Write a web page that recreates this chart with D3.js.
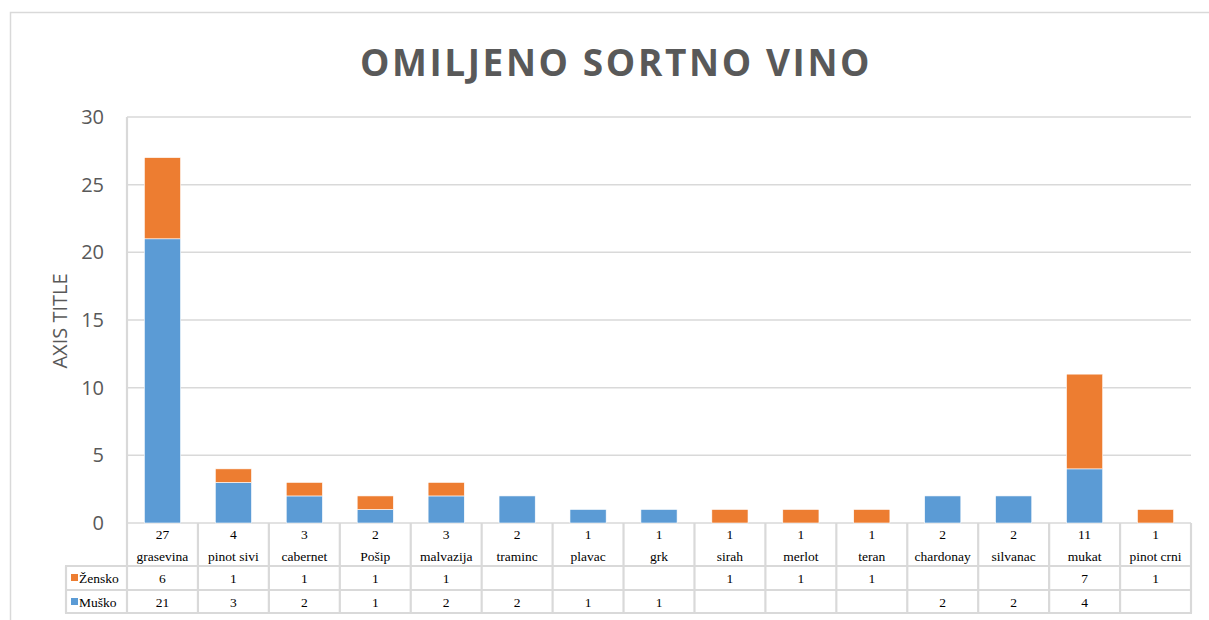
<!DOCTYPE html>
<html>
<head>
<meta charset="utf-8">
<script src="https://cdn.jsdelivr.net/npm/d3@7"></script>
<style>
  body { margin: 0; background: #fff; }
  svg { display: block; }
</style>
</head>
<body>
<script>
// data
var categories = ['grasevina', 'pinot sivi', 'cabernet', 'Pošip', 'malvazija', 'traminc', 'plavac', 'grk',
  'sirah', 'merlot', 'teran', 'chardonay', 'silvanac', 'mukat', 'pinot crni'];
var totals = [27, 4, 3, 2, 3, 2, 1, 1, 1, 1, 1, 2, 2, 11, 1];
var zensko = [6, 1, 1, 1, 1, null, null, null, 1, 1, 1, null, null, 7, 1];
var musko = [21, 3, 2, 1, 2, 2, 1, 1, null, null, null, 2, 2, 4, null];
var yTicks = [0, 5, 10, 15, 20, 25, 30];

var W = 1209, H = 620;
var plotLeft = 127, plotRight = 1191, plotTop = 117, base = 523;
var rowH = [43, 24, 23];

var svg = d3.select('body').append('svg')
  .attr('width', W)
  .attr('height', H);

// chart border
svg.append('rect')
  .attr('x', 10.5).attr('y', 12.5)
  .attr('width', 1220).attr('height', 620)
  .attr('fill', 'none')
  .attr('stroke', '#d9d9d9')
  .attr('stroke-width', 1.5);

svg.append('text')
  .attr('x', 616)
  .attr('y', 76)
  .attr('text-anchor', 'middle')
  .style('font-family', 'Open Sans, sans-serif')
  .style('font-weight', 'bold')
  .style('font-size', '37px')
  .style('letter-spacing', '2.6px')
  .style('fill', '#595959')
  .text('OMILJENO SORTNO VINO');

var x = d3.scaleBand()
  .domain(categories)
  .range([plotLeft, plotRight])
  .paddingInner(0.49)
  .paddingOuter(0.245);

var cols = d3.scaleBand()
  .domain(categories)
  .range([plotLeft, plotRight]);

var y = d3.scaleLinear()
  .domain([0, 30])
  .range([base, plotTop]);

// gridlines
svg.append('g')
  .selectAll('line')
  .data(yTicks)
  .enter().append('line')
  .attr('x1', plotLeft).attr('x2', plotRight)
  .attr('y1', function(d) { return y(d); })
  .attr('y2', function(d) { return y(d); })
  .attr('stroke', '#d9d9d9')
  .attr('stroke-width', 1.5);

// y axis labels
var yAxis = d3.axisLeft(y).tickValues(yTicks).tickSize(0).tickPadding(0);
var gy = svg.append('g')
  .attr('transform', 'translate(104,0)')
  .call(yAxis);
gy.select('.domain').remove();
gy.selectAll('text')
  .style('font-family', 'Open Sans, sans-serif')
  .style('font-size', '20px')
  .style('fill', '#595959');

svg.append('text')
  .attr('transform', 'translate(67,321) rotate(-90)')
  .attr('text-anchor', 'middle')
  .style('font-family', 'Open Sans, sans-serif')
  .style('font-size', '20px')
  .style('fill', '#595959')
  .text('AXIS TITLE');

// stacked bars
var stackData = categories.map(function(c, i) {
  return { cat: c, musko: musko[i] || 0, zensko: zensko[i] || 0 };
});
var series = d3.stack().keys(['musko', 'zensko'])(stackData);
var color = { musko: '#5b9bd5', zensko: '#ed7d31' };

svg.append('g')
  .selectAll('g')
  .data(series)
  .enter().append('g')
  .attr('fill', function(s) { return color[s.key]; })
  .selectAll('rect')
  .data(function(s) { return s.filter(function(d) { return d[1] > d[0]; }); })
  .enter().append('rect')
  .attr('x', function(d) { return x(d.data.cat); })
  .attr('width', x.bandwidth())
  .attr('y', function(d) { return y(d[1]); })
  .attr('height', function(d) { return y(d[0]) - y(d[1]); })
  .attr('stroke', '#fff')
  .attr('stroke-width', 0.6);

// data table
var table = svg.append('g');
var lineStyle = function(sel) { sel.attr('stroke', '#d9d9d9').attr('stroke-width', 2.2); };
var y1 = base + rowH[0], y2 = y1 + rowH[1], y3 = y2 + rowH[2];

// vertical lines
table.selectAll('.vl')
  .data(d3.range(categories.length + 1))
  .enter().append('line')
  .attr('class', 'vl')
  .attr('x1', function(i) { return plotLeft + i * cols.bandwidth(); })
  .attr('x2', function(i) { return plotLeft + i * cols.bandwidth(); })
  .attr('y1', function(i) { return i === 0 ? plotTop : base; })
  .attr('y2', y3)
  .call(lineStyle);
table.append('line').attr('x1', 66).attr('x2', 66).attr('y1', y1).attr('y2', y3).call(lineStyle);
// horizontal lines
[y1, y2, y3].forEach(function(yy) {
  table.append('line').attr('x1', 65).attr('x2', plotRight + 1).attr('y1', yy).attr('y2', yy).call(lineStyle);
});

var serif = function(sel) {
  sel.style('font-family', 'Liberation Serif, Times New Roman, serif')
    .style('font-size', '13.5px')
    .style('fill', '#000')
    .attr('text-anchor', 'middle');
};

table.selectAll('.tot')
  .data(categories)
  .enter().append('text')
  .attr('x', function(c) { return cols(c) + cols.bandwidth() / 2; })
  .attr('y', base + 16)
  .text(function(c, i) { return totals[i]; })
  .call(serif);
table.selectAll('.cat')
  .data(categories)
  .enter().append('text')
  .attr('x', function(c) { return cols(c) + cols.bandwidth() / 2; })
  .attr('y', base + 38)
  .text(function(c) { return c; })
  .call(serif);
table.selectAll('.zen')
  .data(categories)
  .enter().append('text')
  .attr('x', function(c) { return cols(c) + cols.bandwidth() / 2; })
  .attr('y', y1 + 17)
  .text(function(c, i) { return zensko[i] == null ? '' : zensko[i]; })
  .call(serif);
table.selectAll('.mus')
  .data(categories)
  .enter().append('text')
  .attr('x', function(c) { return cols(c) + cols.bandwidth() / 2; })
  .attr('y', y2 + 17)
  .text(function(c, i) { return musko[i] == null ? '' : musko[i]; })
  .call(serif);

// legend keys in the table
var legend = [{ key: 'zensko', label: 'Žensko', y: y1 }, { key: 'musko', label: 'Muško', y: y2 }];
legend.forEach(function(l) {
  table.append('rect')
    .attr('x', 71).attr('y', l.y + 8)
    .attr('width', 7).attr('height', 7)
    .attr('fill', color[l.key]);
  table.append('text')
    .attr('x', 79).attr('y', l.y + 17)
    .text(l.label)
    .call(serif)
    .attr('text-anchor', 'start');
});
</script>
</body>
</html>
